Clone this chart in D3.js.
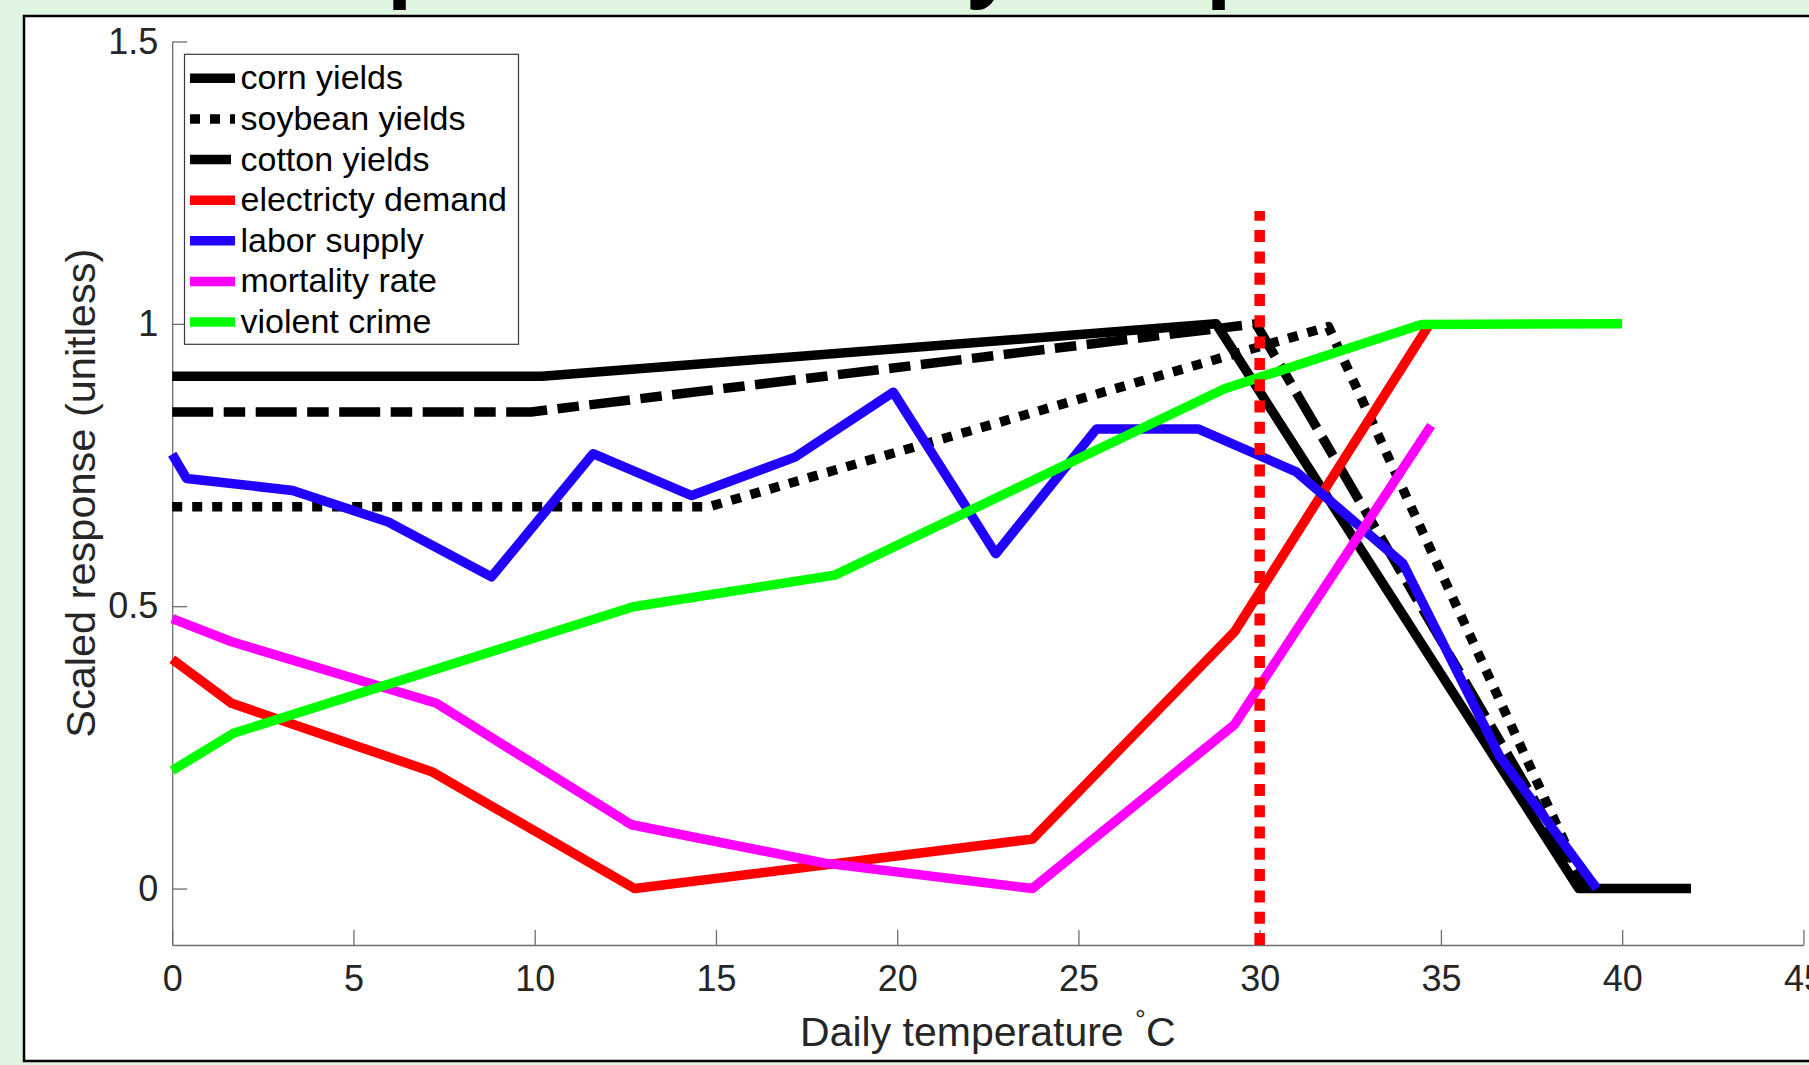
<!DOCTYPE html>
<html>
<head>
<meta charset="utf-8">
<script src="https://cdn.jsdelivr.net/npm/d3@7"></script>
<style>
  html, body { margin: 0; padding: 0; background: #e0f5e0; overflow: hidden; }
  svg { display: block; }
  text { font-family: "Liberation Sans", Arial, Helvetica, sans-serif; fill: #262626; }
</style>
</head>
<body>
<div id="chart"></div>
<script>
// Temperature response curves, scaled 0..1.

const corn_t = [0, 10.2, 28.8, 38.8, 41.9];
const corn_v = [0.907, 0.907, 1.0, 0, 0];

const soy_t = [0, 14.8, 31.9, 39.0];
const soy_v = [0.676, 0.676, 0.995, 0];

const cotton_t = [0, 9.9, 29.9, 39.0];
const cotton_v = [0.844, 0.844, 1.0, 0];

const elec_t = [0, 1.64, 7.16, 12.76, 23.73, 29.31, 34.69];
const elec_v = [0.406, 0.328, 0.207, 0.0, 0.0875, 0.455, 1.0];

const labor_t = [0, 0.4, 3.32, 5.96, 8.81, 11.61, 14.33, 17.18, 19.89, 22.72, 25.5, 28.3, 31.01, 33.95, 36.62, 39.3];
const labor_v = [0.769, 0.726, 0.705, 0.649, 0.552, 0.770, 0.696, 0.764, 0.879, 0.593, 0.814, 0.814, 0.738, 0.576, 0.234, 0.0];

const mort_t = [0, 1.64, 7.29, 12.67, 18.0, 23.73, 29.3, 34.73];
const mort_v = [0.478, 0.437, 0.328, 0.113, 0.045, 0.0, 0.29, 0.82];

const crime_t = [0, 1.69, 12.72, 18.28, 29.03, 34.46, 40.0];
const crime_v = [0.209, 0.275, 0.499, 0.555, 0.885, 0.999, 1.0];

// threshold marker at 30 C
const thresh_t = [30, 30];
const thresh_v = [-0.1, 1.2];

const seriesNames = ["corn yields", "soybean yields", "cotton yields", "electricty demand",
                     "labor supply", "mortality rate", "violent crime"];

const xTicks = [0, 5, 10, 15, 20, 25, 30, 35, 40, 45];
const yTicks = [0, 0.5, 1, 1.5];

const titleText = "Responses to daily temperature";

// ---- styling ----
const W = 1809, H = 1065;
const LW = 9.5;
const DOTTED = "10,10";
const DASHED = "41,10.5,21.5,10.5";

const series = [
  { name: seriesNames[0], t: corn_t,   v: corn_v,   color: "#000000", dash: null },
  { name: seriesNames[1], t: soy_t,    v: soy_v,    color: "#000000", dash: DOTTED },
  { name: seriesNames[2], t: cotton_t, v: cotton_v, color: "#000000", dash: DASHED },
  { name: seriesNames[3], t: elec_t,   v: elec_v,   color: "#ff0000", dash: null },
  { name: seriesNames[4], t: labor_t,  v: labor_v,  color: "#2200ff", dash: null },
  { name: seriesNames[5], t: mort_t,   v: mort_v,   color: "#ff00ff", dash: null },
  { name: seriesNames[6], t: crime_t,  v: crime_v,  color: "#00ff00", dash: null }
];

const svg = d3.select("#chart").append("svg")
  .attr("width", W)
  .attr("height", H);

// slide background + figure frame
svg.append("rect").attr("width", W).attr("height", H).attr("fill", "#e0f5e0");

// slide title sits above the crop, only its descenders show
svg.append("text")
  .attr("x", 240)
  .attr("y", -10)
  .style("font-family", "'Open Sans', sans-serif")
  .style("font-weight", 700)
  .style("font-size", "84px")
  .style("fill", "#000")
  .text(titleText);

svg.append("rect")
  .attr("x", 24).attr("y", 16)
  .attr("width", W + 20).attr("height", 1045)
  .attr("fill", "#ffffff")
  .attr("stroke", "#000")
  .attr("stroke-width", 2.5);

const x = d3.scaleLinear().domain([0, 45]).range([172.2, 1803.4]);
const y = d3.scaleLinear().domain([-0.1, 1.5]).range([945, 41.5]);

// axes (MATLAB style: ticks inward, box off)
const xAxis = svg.append("g")
  .attr("transform", `translate(0,${y(-0.1)})`)
  .call(d3.axisBottom(x).tickValues(xTicks).tickFormat(d3.format("d"))
    .tickSizeInner(-15).tickSizeOuter(0).tickPadding(20));

const yAxis = svg.append("g")
  .attr("transform", `translate(${x(0)},0)`)
  .call(d3.axisLeft(y).tickValues(yTicks).tickFormat(d => String(d))
    .tickSizeInner(-15).tickSizeOuter(0).tickPadding(14));

[xAxis, yAxis].forEach(ax => {
  ax.select(".domain").attr("stroke", "#6e6e6e").attr("stroke-width", 1.3);
  ax.selectAll(".tick line").attr("stroke", "#6e6e6e").attr("stroke-width", 1.3);
  ax.selectAll(".tick text")
    .attr("fill", "#262626")
    .style("font-family", "'Liberation Sans', Arial, sans-serif")
    .style("font-size", "36px");
});

// axis labels
const xl = svg.append("text")
  .attr("x", (x(0) + x(45)) / 2)
  .attr("y", 1046)
  .attr("text-anchor", "middle")
  .style("font-size", "41px");
xl.append("tspan").text("Daily temperature ");
xl.append("tspan").attr("dy", -17).style("font-size", "27px").text("\u00b0");
xl.append("tspan").attr("dy", 17).text("C");

svg.append("text")
  .attr("transform", `translate(95,${(y(-0.1) + y(1.5)) / 2}) rotate(-90)`)
  .attr("text-anchor", "middle")
  .style("font-size", "41.5px")
  .text("Scaled response (unitless)");

// lines
const line = d3.line()
  .x(d => x(d[0]))
  .y(d => y(d[1]));

const plot = svg.append("g");

series.forEach(s => {
  const pts = s.t.map((t, i) => [t, s.v[i]]);
  plot.append("path")
    .datum(pts)
    .attr("d", line)
    .attr("fill", "none")
    .attr("stroke", s.color)
    .attr("stroke-width", LW)
    .attr("stroke-linejoin", "round")
    .attr("stroke-dasharray", s.dash);
});

plot.append("path")
  .datum(thresh_t.map((t, i) => [t, thresh_v[i]]))
  .attr("d", line)
  .attr("fill", "none")
  .attr("stroke", "#ff0000")
  .attr("stroke-width", 10.5)
  .attr("stroke-dasharray", "12,9.3");

// legend
const legX = 184.5, legY = 54.3, legW = 334, legH = 290;
const lg = svg.append("g");
lg.append("rect")
  .attr("x", legX).attr("y", legY)
  .attr("width", legW).attr("height", legH)
  .attr("fill", "#fff")
  .attr("stroke", "#3a3a3a")
  .attr("stroke-width", 1.2);

const rowY = d3.scalePoint().domain(seriesNames).range([78.3, 322]);

series.forEach(s => {
  const ry = rowY(s.name);
  lg.append("line")
    .attr("x1", 190).attr("x2", 235)
    .attr("y1", ry).attr("y2", ry)
    .attr("stroke", s.color)
    .attr("stroke-width", LW)
    .attr("stroke-dasharray", s.dash);
  lg.append("text")
    .attr("x", 240.5)
    .attr("y", ry + 11)
    .style("font-size", "34px")
    .style("fill", "#000")
    .text(s.name);
});
</script>
</body>
</html>
